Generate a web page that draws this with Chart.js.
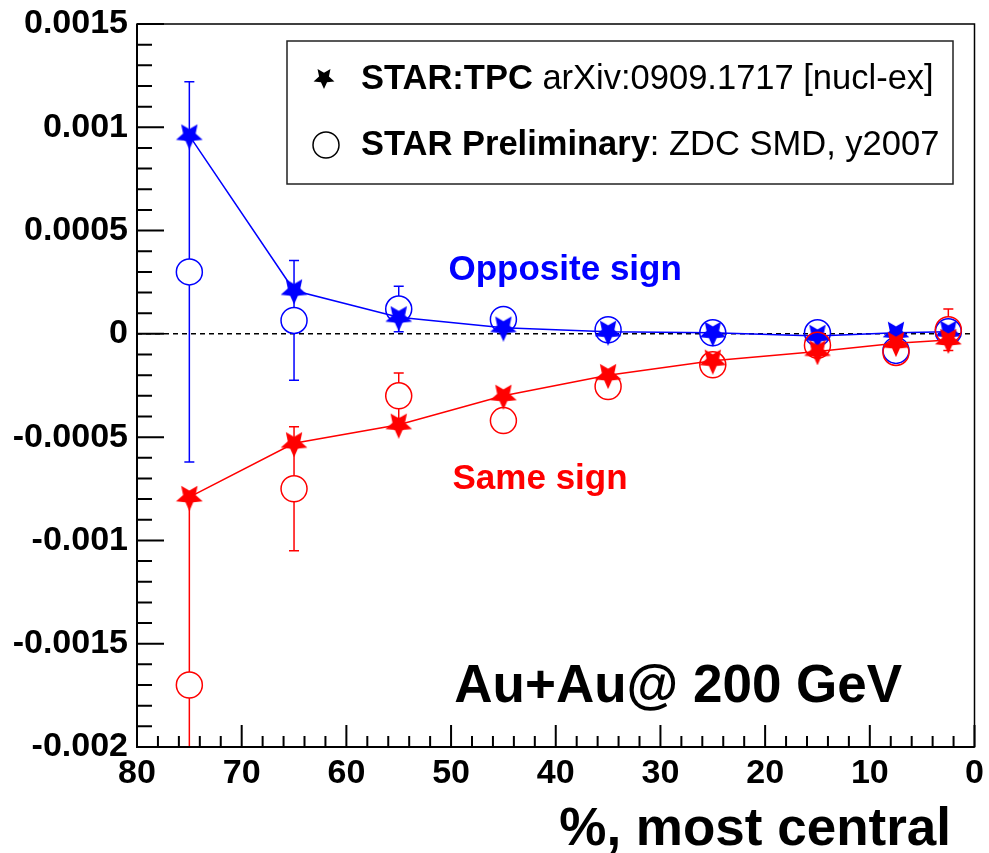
<!DOCTYPE html>
<html>
<head>
<meta charset="utf-8">
<script src="https://cdn.jsdelivr.net/npm/chart.js@4.4.0/dist/chart.umd.min.js"></script>
<style>
  html, body { margin: 0; padding: 0; background: #fff; }
</style>
</head>
<body>
<canvas id="cve" width="989" height="853"></canvas>
<script>
// centrality bins, % most central
const centrality = [75, 65, 55, 45, 35, 25, 15, 7.5, 2.5];

// STAR TPC (arXiv:0909.1717)
const tpcOpposite = [0.00096, 0.00021, 0.00008, 0.00003, 0.00001, 0.000005, -0.00001, 0.000005, 0.00001];
const tpcOppositeErr = [0.00002, 0.00002, 0.00002, 0.00001, 0.00001, 0.00001, 0.00001, 0.00001, 0.00001];
const tpcSame = [-0.00079, -0.00053, -0.00044, -0.00030, -0.00020, -0.00013, -0.000085, -0.000045, -0.00003];
const tpcSameErr = [0.00002, 0.00002, 0.00002, 0.00001, 0.00001, 0.00001, 0.00001, 0.00001, 0.00001];

// STAR preliminary, ZDC SMD y2007
const zdcOpposite = [0.0003, 0.000065, 0.00012, 0.00007, 0.00002, 0.000005, 0.000005, -0.00008, 0.00001];
const zdcOppositeErr = [0.00092, 0.00029, 0.00011, 0.00003, 0.00003, 0.00003, 0.00003, 0.00003, 0.00003];
const zdcSame = [-0.0017, -0.00075, -0.0003, -0.00042, -0.000255, -0.00015, -0.000055, -0.00009, 0.00002];
const zdcSameErr = [0.0009, 0.0003, 0.00011, 0.00003, 0.00003, 0.00003, 0.00003, 0.00003, 0.0001];

const xTicks = [0, 10, 20, 30, 40, 50, 60, 70, 80];
const yTicks = [-0.002, -0.0015, -0.001, -0.0005, 0, 0.0005, 0.001, 0.0015];
const yTickLabels = ['-0.002', '-0.0015', '-0.001', '-0.0005', '0', '0.0005', '0.001', '0.0015'];

const legendBold = ['STAR:TPC', 'STAR Preliminary'];
const legendRest = [' arXiv:0909.1717 [nucl-ex]', ': ZDC SMD, y2007'];

const BLUE = '#0000ff';
const RED = '#ff0000';
const FONT = '"Liberation Sans", Arial, Helvetica, sans-serif';

// filled five point star (ROOT marker 29 look), drawn point down
function starImage(color, size) {
    const c = document.createElement('canvas');
    c.width = c.height = size;
    const g = c.getContext('2d');
    const r1 = size / 2, r2 = r1 * 0.47;
    g.translate(size / 2, size / 2);
    g.beginPath();
    for (let k = 0; k < 10; k++) {
        const r = k % 2 ? r2 : r1;
        const a = Math.PI / 5 * k;
        g.lineTo(r * Math.sin(a), r * Math.cos(a));
    }
    g.closePath();
    g.fillStyle = color;
    g.fill();
    return c;
}

function points(ys) {
    return centrality.map((x, i) => ({ x: x, y: ys[i] }));
}

// vertical error bars with small caps, open markers leave a gap
const errorBars = {
    id: 'errorBars',
    beforeDatasetDraw(chart, args) {
        const ds = chart.data.datasets[args.index];
        if (!ds.errors) return;
        const { ctx, chartArea: a, scales: { y } } = chart;
        const gap = ds.errGap || 0;
        ctx.save();
        ctx.beginPath();
        ctx.rect(a.left, a.top, a.right - a.left, a.bottom - a.top);
        ctx.clip();
        ctx.strokeStyle = ds.borderColor;
        ctx.lineWidth = 1.5;
        args.meta.data.forEach((pt, i) => {
            const v = ds.data[i].y, e = ds.errors[i];
            const top = y.getPixelForValue(v + e);
            const bot = y.getPixelForValue(v - e);
            ctx.beginPath();
            if (pt.y - gap > top) {
                ctx.moveTo(pt.x, pt.y - gap);
                ctx.lineTo(pt.x, top);
                ctx.moveTo(pt.x - 5, top);
                ctx.lineTo(pt.x + 5, top);
            }
            if (pt.y + gap < bot) {
                ctx.moveTo(pt.x, pt.y + gap);
                ctx.lineTo(pt.x, bot);
                ctx.moveTo(pt.x - 5, bot);
                ctx.lineTo(pt.x + 5, bot);
            }
            ctx.stroke();
        });
        ctx.restore();
    }
};

// dashed zero line under the data
const zeroLine = {
    id: 'zeroLine',
    beforeDatasetsDraw(chart) {
        const { ctx, chartArea: a, scales: { y } } = chart;
        const y0 = y.getPixelForValue(0);
        ctx.save();
        ctx.strokeStyle = '#000';
        ctx.lineWidth = 1.5;
        ctx.setLineDash([5, 4]);
        ctx.beginPath();
        ctx.moveTo(a.left, y0);
        ctx.lineTo(a.right, y0);
        ctx.stroke();
        ctx.restore();
    }
};

// frame with inward ticks, legend box and text labels
const decorations = {
    id: 'decorations',
    afterDraw(chart) {
        const { ctx, chartArea: a, scales: { x, y } } = chart;
        ctx.save();
        ctx.strokeStyle = '#000';

        ctx.lineWidth = 1.5;
        ctx.strokeRect(a.left, a.top, a.right - a.left, a.bottom - a.top);
        ctx.lineWidth = 2;
        ctx.beginPath();
        ctx.moveTo(a.left, a.top);
        ctx.lineTo(a.left, a.bottom);
        ctx.lineTo(a.right, a.bottom);
        ctx.stroke();

        ctx.beginPath();
        for (let v = 0; v <= 80; v += 2) {
            const px = x.getPixelForValue(v);
            const len = v % 10 === 0 ? 22 : 11;
            ctx.moveTo(px, a.bottom);
            ctx.lineTo(px, a.bottom - len);
        }
        for (let k = -20; k <= 15; k++) {
            const py = y.getPixelForValue(k / 10000);
            const len = k % 5 === 0 ? 27 : 15;
            ctx.moveTo(a.left, py);
            ctx.lineTo(a.left + len, py);
        }
        ctx.stroke();

        // legend
        ctx.fillStyle = '#fff';
        ctx.fillRect(287, 41, 666, 143);
        ctx.lineWidth = 1.5;
        ctx.strokeStyle = '#222';
        ctx.strokeRect(287, 41, 666, 143);
        ctx.drawImage(starImage('#000', 22), 313, 67);
        ctx.strokeStyle = '#000';
        ctx.lineWidth = 1.5;
        ctx.beginPath();
        ctx.arc(326, 145, 13, 0, Math.PI * 2);
        ctx.stroke();
        ctx.fillStyle = '#000';
        ctx.textBaseline = 'middle';
        ctx.textAlign = 'left';
        [79, 145].forEach((ty, i) => {
            ctx.font = 'bold 34.5px ' + FONT;
            ctx.fillText(legendBold[i], 361, ty);
            const w = ctx.measureText(legendBold[i]).width;
            ctx.font = '34.5px ' + FONT;
            ctx.fillText(legendRest[i], 361 + w, ty);
        });

        ctx.textAlign = 'center';
        ctx.textBaseline = 'alphabetic';
        ctx.font = 'bold 35px ' + FONT;
        ctx.fillStyle = BLUE;
        ctx.fillText('Opposite sign', x.getPixelForValue(39.1), y.getPixelForValue(0.00026));
        ctx.fillStyle = RED;
        ctx.fillText('Same sign', x.getPixelForValue(41.5), y.getPixelForValue(-0.00075));

        ctx.fillStyle = '#000';
        ctx.font = 'bold 53px ' + FONT;
        ctx.fillText('Au+Au@ 200 GeV', x.getPixelForValue(28.3), y.getPixelForValue(-0.00178));
        ctx.textAlign = 'right';
        ctx.fillText('%, most central', 951, 845);
        ctx.restore();
    }
};

const tpcStarBlue = starImage(BLUE, 28);
const tpcStarRed = starImage(RED, 28);

new Chart(document.getElementById('cve'), {
    type: 'scatter',
    data: {
        datasets: [
            {
                label: 'ZDC opposite',
                data: points(zdcOpposite),
                errors: zdcOppositeErr,
                errGap: 13,
                borderColor: BLUE,
                backgroundColor: 'rgba(0,0,0,0)',
                pointStyle: 'circle',
                pointRadius: 13,
                pointBorderWidth: 1.5,
                showLine: false,
                order: 4
            },
            {
                label: 'TPC opposite',
                data: points(tpcOpposite),
                errors: tpcOppositeErr,
                borderColor: BLUE,
                backgroundColor: BLUE,
                borderWidth: 1.5,
                pointStyle: tpcStarBlue,
                showLine: true,
                order: 3
            },
            {
                label: 'ZDC same',
                data: points(zdcSame),
                errors: zdcSameErr,
                errGap: 13,
                borderColor: RED,
                backgroundColor: 'rgba(0,0,0,0)',
                pointStyle: 'circle',
                pointRadius: 13,
                pointBorderWidth: 1.5,
                showLine: false,
                order: 2
            },
            {
                label: 'TPC same',
                data: points(tpcSame),
                errors: tpcSameErr,
                borderColor: RED,
                backgroundColor: RED,
                borderWidth: 1.5,
                pointStyle: tpcStarRed,
                showLine: true,
                order: 1
            }
        ]
    },
    options: {
        responsive: false,
        animation: false,
        events: [],
        layout: { padding: { left: 0, top: 24, right: 10, bottom: 0 } },
        plugins: {
            legend: { display: false },
            tooltip: { enabled: false }
        },
        scales: {
            x: {
                type: 'linear',
                reverse: true,
                min: 0,
                max: 80,
                grid: { display: false, drawTicks: false },
                border: { display: false },
                afterBuildTicks: (scale) => { scale.ticks = xTicks.map(v => ({ value: v })); },
                afterFit: (scale) => { scale.height = 106; },
                ticks: {
                    autoSkip: false,
                    maxRotation: 0,
                    padding: 6,
                    color: '#000',
                    font: { family: FONT, size: 34, weight: 'bold' },
                    callback: (v) => String(v)
                }
            },
            y: {
                type: 'linear',
                min: -0.002,
                max: 0.0015,
                grid: { display: false, drawTicks: false },
                border: { display: false },
                afterBuildTicks: (scale) => { scale.ticks = yTicks.map(v => ({ value: v })); },
                afterFit: (scale) => {
                    scale.width = 137;
                    scale.paddingTop = 0;
                    scale.paddingBottom = 0;
                },
                ticks: {
                    autoSkip: false,
                    padding: 9,
                    color: '#000',
                    font: { family: FONT, size: 34, weight: 'bold' },
                    callback: (v, i) => yTickLabels[i]
                }
            }
        }
    },
    plugins: [zeroLine, errorBars, decorations]
});
</script>
</body>
</html>
